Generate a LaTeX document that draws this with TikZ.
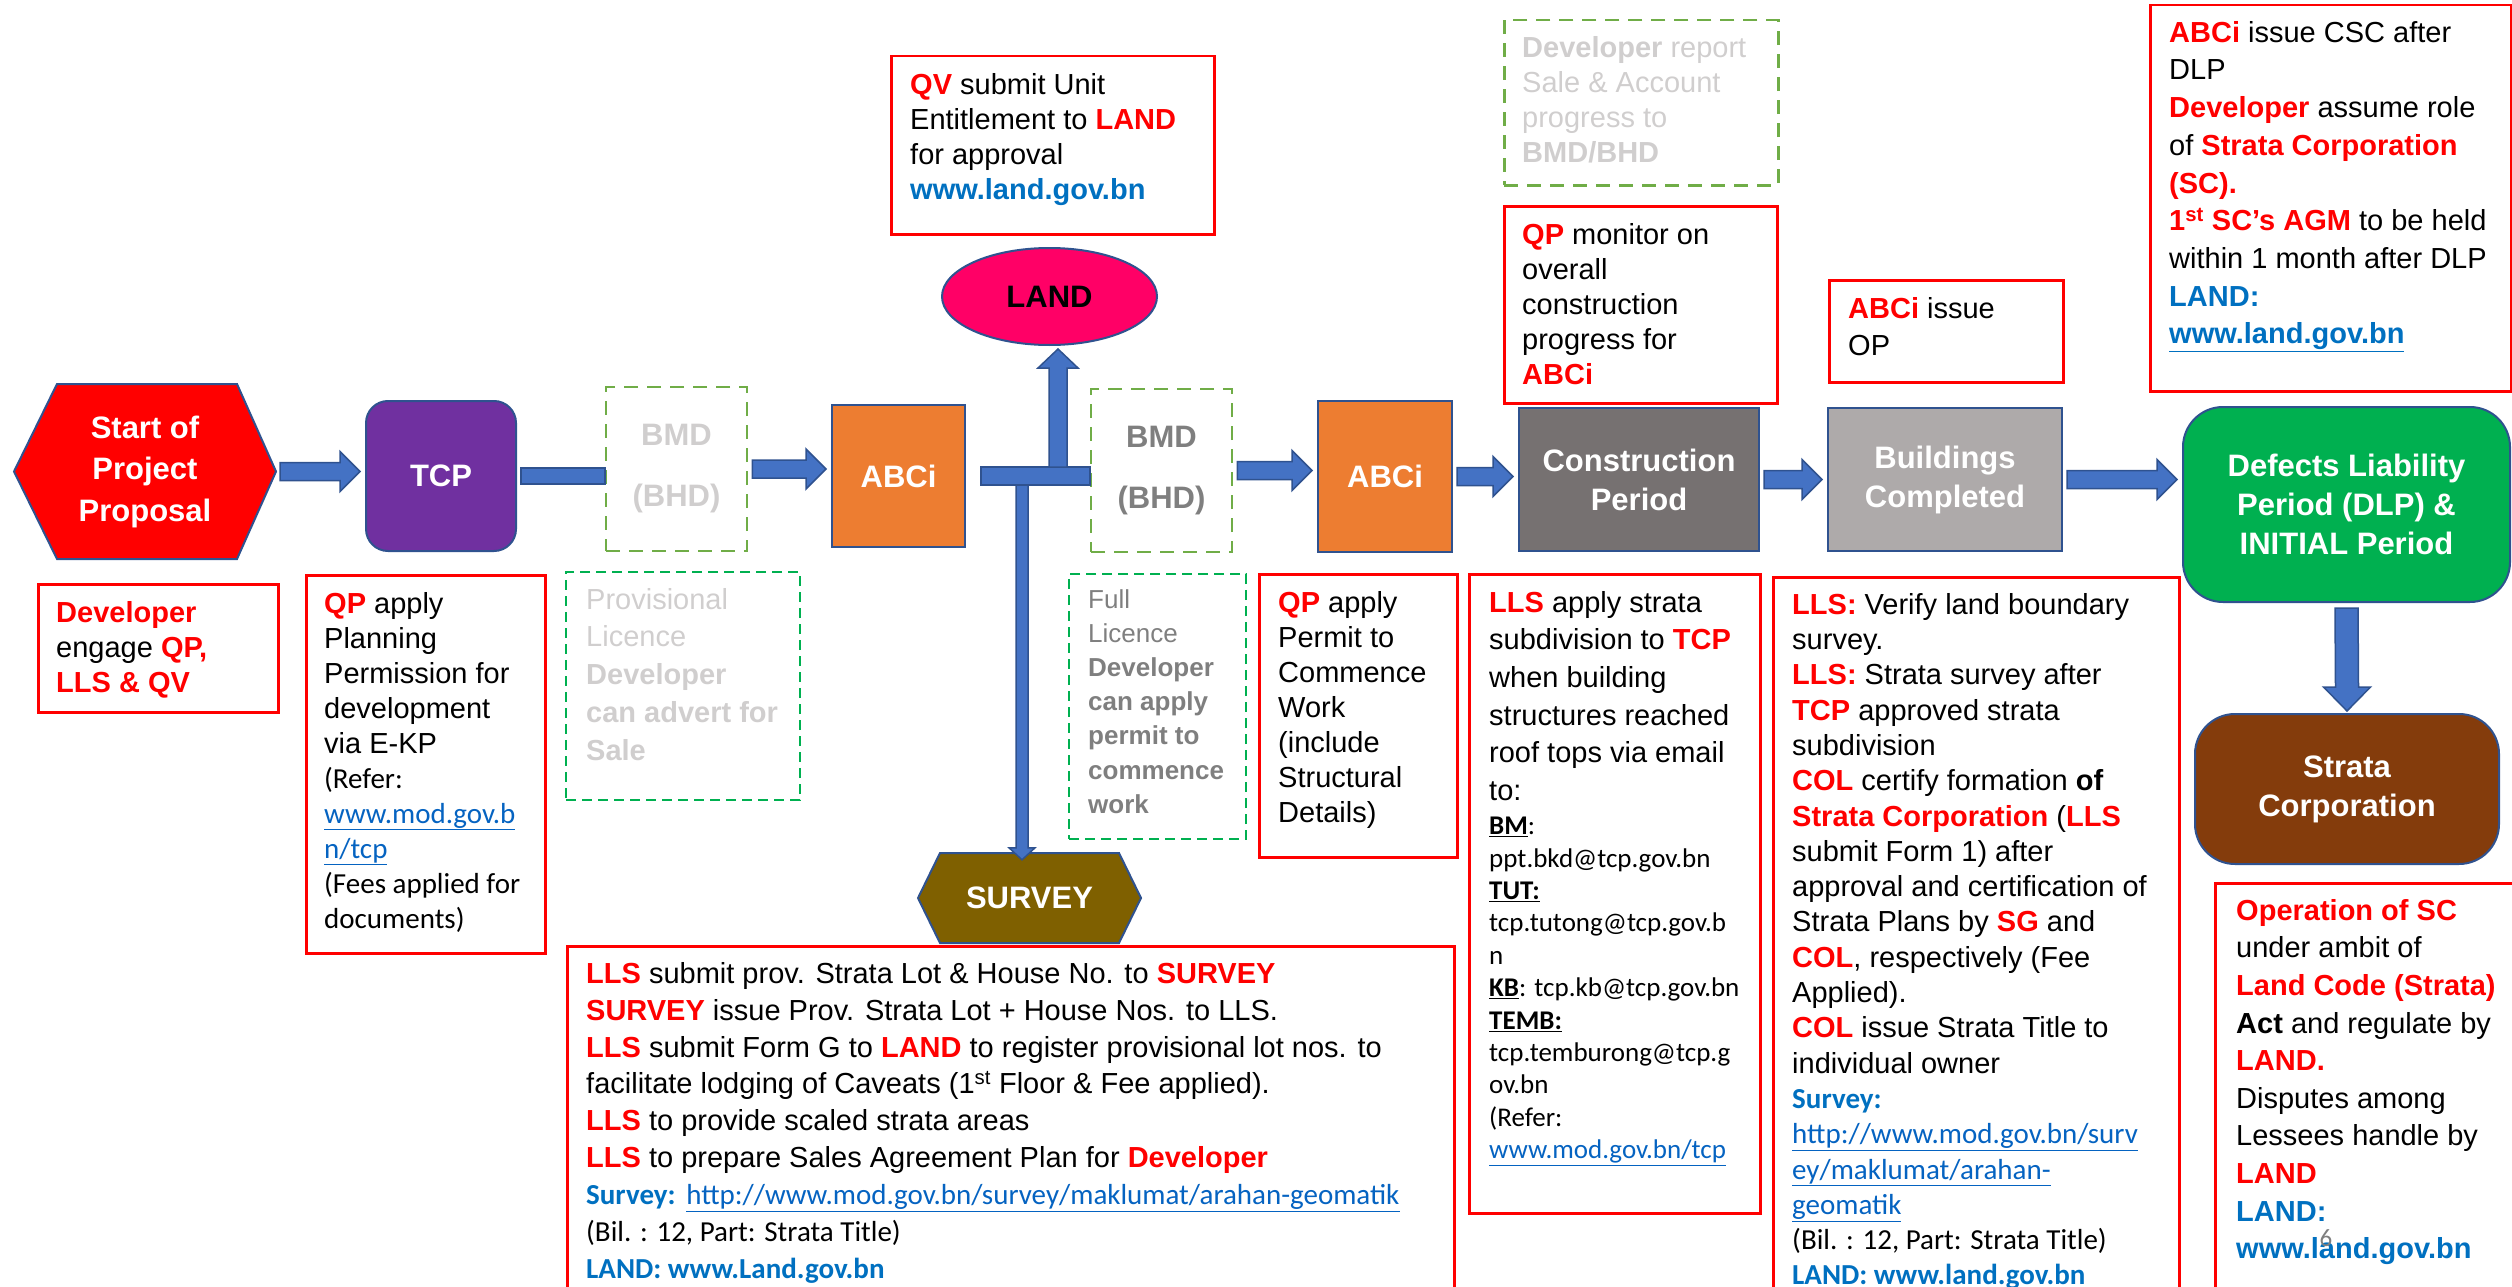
\documentclass[tikz,border=0pt]{standalone}
\usepackage{fontspec}
\setmainfont{Liberation Sans}
\newfontfamily\calibri{Carlito}
\usetikzlibrary{calc,positioning,shapes}

\definecolor{boxred}{HTML}{FF0000}
\definecolor{txtred}{HTML}{FF0000}
\definecolor{edgeblue}{HTML}{2F528F}
\definecolor{arrowblue}{HTML}{4472C4}
\definecolor{linkblue}{HTML}{0563C1}
\definecolor{landblue}{HTML}{0070C0}
\definecolor{ltgray}{HTML}{D0CECE}
\definecolor{dkgray}{HTML}{7F7F7F}
\definecolor{bmdgrn}{HTML}{70AD47}
\definecolor{dashgrn}{HTML}{00B050}
\definecolor{startred}{HTML}{FF0000}
\definecolor{tcppurple}{HTML}{7030A0}
\definecolor{abciorange}{HTML}{ED7D31}
\definecolor{landpink}{HTML}{FF0066}
\definecolor{surveybrown}{HTML}{7F6000}
\definecolor{constrgray}{HTML}{767171}
\definecolor{buildgray}{HTML}{AEAAAA}
\definecolor{dlpgreen}{HTML}{00B050}
\definecolor{scbrown}{HTML}{843C0C}

\newcommand\rd[1]{{\bfseries\color{txtred}#1}}
\newcommand\bl[1]{{\bfseries\color{landblue}#1}}
\newcommand\lk[1]{{\calibri\color{linkblue}\underline{#1}}}

% block arrows: horizontal from #1 to #2, vertical from coordinate to coordinate
\newcommand\harrow[2]{%
        \path ($(#1.east)+(4,0)$) coordinate (ha) (#1.east -| #2.west) ++(-5,0) coordinate (hb);
        \draw[blockarrow] ($(ha)+(0,-9)$) -- ($(hb)+(-20,-9)$) -- ($(hb)+(-20,-20)$) -- (hb)
            -- ($(hb)+(-20,20)$) -- ($(hb)+(-20,9)$) -- ($(ha)+(0,9)$) -- cycle;}
\newcommand\vdown[5]{%
        \draw[blockarrow] ($(#1)+(-#3,0)$) -- ($(#2)+(-#3,-#5)$) -- ($(#2)+(-#4,-#5)$) -- (#2)
            -- ($(#2)+(#4,-#5)$) -- ($(#2)+(#3,-#5)$) -- ($(#1)+(#3,0)$) -- cycle;}
\newcommand\vup[5]{%
        \draw[blockarrow] ($(#1)+(-#3,0)$) -- ($(#2)+(-#3,#5)$) -- ($(#2)+(-#4,#5)$) -- (#2)
            -- ($(#2)+(#4,#5)$) -- ($(#2)+(#3,#5)$) -- ($(#1)+(#3,0)$) -- cycle;}

\tikzset{
        every node/.style={inner sep=0pt},
        body/.style={align=left, anchor=north west, font=\fontsize{29}{35}\selectfont},
        redbox/.style={draw=boxred, line width=2.5pt, anchor=north west},
        grnbox/.style={draw=dashgrn, line width=2pt, dash pattern=on 10pt off 6pt, anchor=north west},
        bmdbox/.style={draw=bmdgrn, line width=2.5pt, dash pattern=on 14pt off 9pt},
        stage/.style={text=white, align=center, font=\bfseries\fontsize{31}{39}\selectfont},
        stagefill/.style={stage, draw=edgeblue, line width=2pt, fill=#1},
        blockarrow/.style={fill=arrowblue, draw=edgeblue, line width=1.5pt},
}

\begin{document}
\begin{tikzpicture}[x=1pt,y=-1pt]
        \useasboundingbox (0,0) rectangle (2512,1287);

        % main row
        \draw[fill=startred, draw=edgeblue, line width=2pt] (14,471.5) -- (57,384) -- (237,384) -- (276,471.5) -- (237,559) -- (57,559) -- cycle;
        \node[stage, minimum width=262pt, minimum height=175pt, font=\bfseries\fontsize{31}{41.5}\selectfont] (start) at (145,471.5) {Start of\\Project\\Proposal};
        \node[stagefill=tcppurple, rounded corners=22pt, minimum width=150pt, minimum height=150pt] (tcp) at (441,476) {TCP};
        \node[bmdbox, text=ltgray, align=center, minimum width=141pt, minimum height=164pt, font=\bfseries\fontsize{31}{61}\selectfont] (bmd1) at (676.5,469) {BMD\\(BHD)};
        \node[stagefill=abciorange, minimum width=133pt, minimum height=142pt] (abci1) at (898.5,476) {ABCi};
        \node[stagefill=landpink, ellipse, text=black, minimum width=215pt, minimum height=97pt] (land) at (1049.5,296.5) {LAND};
        \node[bmdbox, text=dkgray, align=center, minimum width=141pt, minimum height=163pt, font=\bfseries\fontsize{31}{61}\selectfont] (bmd2) at (1161.5,470.5) {BMD\\(BHD)};
        \node[stagefill=abciorange, minimum width=134pt, minimum height=151pt] (abci2) at (1385,476.5) {ABCi};
        \node[stagefill=constrgray, minimum width=240pt, minimum height=143pt] (constr) at (1639,479.5) {Construction\\Period};
        \node[stagefill=buildgray, minimum width=234pt, minimum height=143pt] (build) at (1945,479.5) {Buildings\\Completed};
        \node[stagefill=dlpgreen, rounded corners=40pt, minimum width=327pt, minimum height=195pt] (dlp) at (2346.5,504.5) {Defects Liability\\Period (DLP) \&\\INITIAL Period};
        \node[stagefill=scbrown, rounded corners=40pt, minimum width=304pt, minimum height=150pt] (strata) at (2347,789) {Strata\\Corporation};
        \draw[fill=surveybrown, draw=edgeblue, line width=2pt] (918,898) -- (940,853) -- (1119,853) -- (1141,898) -- (1119,943) -- (940,943) -- cycle;
        \node[stage, minimum width=223pt, minimum height=90pt] (survey) at (1029.5,898) {SURVEY};

        \harrow{start}{tcp}
        \draw[blockarrow] ($(tcp.east)+(4,-8)$) rectangle ($(tcp.east -| bmd1.west)+(0,8)$);
        \harrow{bmd1}{abci1}
        \draw[blockarrow] ($(abci1.east)+(15,-9)$) rectangle ($(abci1.east -| bmd2.west)+(0,9)$);
        \harrow{bmd2}{abci2}
        \harrow{abci2}{constr}
        \harrow{constr}{build}
        \harrow{build}{dlp}

        \coordinate (jup) at (1058,467);
        \coordinate (jtop) at ($(jup |- land.south)+(0,3)$);
        \vup{jup}{jtop}{9}{20}{19}
        \coordinate (jdn) at (1022,485);
        \coordinate (jbot) at ($(jdn |- survey.north)+(0,7)$);
        \vdown{jdn}{jbot}{6}{13}{12}
        \coordinate (dla) at ($(dlp.south)+(0,5)$);
        \coordinate (dlb) at ($(strata.north)+(0,-2)$);
        \vdown{dla}{dlb}{11.5}{23.5}{24}

        % notes
        \node[redbox, minimum width=240pt, minimum height=128pt] (devbox) at (37,583) {};
        \node[body] (devtxt) at (56,601) {\rd{Developer}\\engage \rd{QP,}\\\rd{LLS \& QV}};

        \node[redbox, minimum width=239pt, minimum height=378pt] (planbox) at (305,574) {};
        \node[body] (plantxt) at (324,592) {\rd{QP} apply\\Planning\\Permission for\\development\\via E-KP\\{\calibri (Refer:}\\\lk{www.mod.gov.b}\\\lk{n/tcp}\\{\calibri (Fees applied for}\\{\calibri documents)}};

        \node[grnbox, minimum width=234pt, minimum height=228pt] (provbox) at (565,571) {};
        \node[body, text=ltgray, font=\fontsize{29}{37.7}\selectfont] (provtxt) at (586,588) {Provisional\\Licence\\\textbf{Developer}\\\textbf{can advert for}\\\textbf{Sale}};

        \node[redbox, minimum width=323pt, minimum height=178pt] (qvbox) at (890,55) {};
        \node[body] (qvtxt) at (910,73) {\rd{QV} submit Unit\\Entitlement to \rd{LAND}\\for approval\\\bl{www.land.gov.bn}};

        \node[grnbox, minimum width=177pt, minimum height=265pt] (fullbox) at (1068,573) {};
        \node[body, text=dkgray, font=\fontsize{26}{34.2}\selectfont] (fulltxt) at (1088,589) {Full\\Licence\\\textbf{Developer}\\\textbf{can apply}\\\textbf{permit to}\\\textbf{commence}\\\textbf{work}};

        \node[redbox, minimum width=198pt, minimum height=283pt] (permitbox) at (1258,573) {};
        \node[body] (permittxt) at (1278,591) {\rd{QP} apply\\Permit to\\Commence\\Work\\(include\\Structural\\Details)};

        \node[bmdbox, anchor=north west, minimum width=274pt, minimum height=165pt] (reportbox) at (1503,19) {};
        \node[body, text=ltgray] (reporttxt) at (1522,36) {\textbf{Developer} report\\Sale \& Account\\progress to\\\textbf{BMD/BHD}};

        \node[redbox, minimum width=273pt, minimum height=197pt] (monbox) at (1503,205) {};
        \node[body] (montxt) at (1522,223) {\rd{QP} monitor on\\overall\\construction\\progress for\\\rd{ABCi}};

        \node[redbox, minimum width=234pt, minimum height=102pt] (opbox) at (1828,279) {};
        \node[body, font=\fontsize{29}{37}\selectfont] (optxt) at (1848,297) {\rd{ABCi} issue\\OP};

        \node[redbox, minimum width=361pt, minimum height=386pt] (cscbox) at (2149,4) {};
        \node[body, font=\fontsize{29}{37.7}\selectfont] (csctxt) at (2169,21) {\rd{ABCi} issue CSC after\\DLP\\\rd{Developer} assume role\\of \rd{Strata Corporation}\\\rd{(SC).}\\\rd{1\textsuperscript{st} SC’s AGM} to be held\\within 1 month after DLP\\\bl{LAND:}\\\bl{\underline{www.land.gov.bn}}};

        \node[redbox, minimum width=291pt, minimum height=639pt] (mailbox) at (1468,573) {};
        \node[body, font=\fontsize{29}{37.6}\selectfont] (mailtxt) at (1489,591) {\rd{LLS} apply strata\\subdivision to \rd{TCP}\\when building\\structures reached\\roof tops via email\\to:};
        \node[body, font=\calibri\fontsize{27}{32.4}\selectfont] (mailaddr) at (1489,817) {\textbf{\underline{BM}}:\\ppt.bkd@tcp.gov.bn\\\textbf{\underline{TUT:}}\\tcp.tutong@tcp.gov.b\\n\\\textbf{\underline{KB}}: tcp.kb@tcp.gov.bn\\\textbf{\underline{TEMB:}}\\tcp.temburong@tcp.g\\ov.bn\\(Refer:\\\lk{www.mod.gov.bn/tcp}};

        \node[redbox, minimum width=406pt, minimum height=740pt] (verifybox) at (1772,576) {};
        \node[body, font=\fontsize{29}{35.3}\selectfont] (verifytxt) at (1792,593) {\rd{LLS:} Verify land boundary\\survey.\\\rd{LLS:} Strata survey after\\\rd{TCP} approved strata\\subdivision\\\rd{COL} certify formation \textbf{of}\\\rd{Strata Corporation} (\rd{LLS}\\submit Form 1) after\\approval and certification of\\Strata Plans by \rd{SG} and\\\rd{COL}, respectively (Fee\\Applied).\\\rd{COL} issue Strata Title to\\individual owner\\{\calibri\bl{Survey:}}\\\lk{http://www.mod.gov.bn/surv}\\\lk{ey/maklumat/arahan-}\\\lk{geomatik}\\{\calibri (Bil. : 12, Part: Strata Title)}\\{\calibri\bl{LAND: www.land.gov.bn}}};

        \node[redbox, minimum width=310pt, minimum height=420pt] (opscbox) at (2214,882) {};
        \node[body, font=\fontsize{29}{37.6}\selectfont] (opsctxt) at (2236,899) {\rd{Operation of SC}\\under ambit of\\\rd{Land Code (Strata)}\\\textbf{Act} and regulate by\\\rd{LAND.}\\Disputes among\\Lessees handle by\\\rd{LAND}\\\bl{LAND:}\\\bl{www.land.gov.bn}};
        \node[text=dkgray, font=\calibri\fontsize{25}{25}\selectfont] (pagenum) at (2326,1238) {6};

        \node[redbox, minimum width=887pt, minimum height=400pt] (lotbox) at (566,945) {};
        \node[body, font=\fontsize{29}{36.9}\selectfont] (lottxt) at (586,962) {\rd{LLS} submit prov. Strata Lot \& House No. to \rd{SURVEY}\\\rd{SURVEY} issue Prov. Strata Lot + House Nos. to LLS.\\\rd{LLS} submit Form G to \rd{LAND} to register provisional lot nos. to\\facilitate lodging of Caveats (1\textsuperscript{st} Floor \& Fee applied).\\\rd{LLS} to provide scaled strata areas\\\rd{LLS} to prepare Sales Agreement Plan for \rd{Developer}\\{\calibri\bl{Survey:}} \lk{http://www.mod.gov.bn/survey/maklumat/arahan-geomatik}\\{\calibri (Bil. : 12, Part: Strata Title)}\\{\calibri\bl{LAND: www.Land.gov.bn}}};
\end{tikzpicture}
\end{document}
